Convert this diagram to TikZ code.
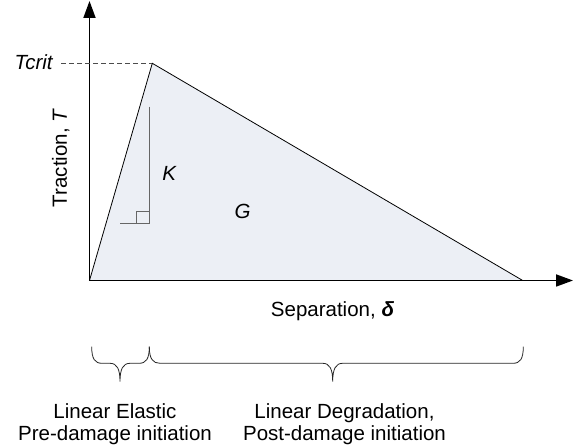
\documentclass[tikz,border=0pt]{standalone}
\usepackage{fontspec}
\setmainfont{Liberation Sans}
\usetikzlibrary{arrows.meta}

\definecolor{areafill}{HTML}{ECEFF5}

\begin{document}
\begin{tikzpicture}[
  x=1pt, y=1pt,
  axis/.style={line width=1.8pt, -{Triangle[length=17pt,width=12pt]}},
  region/.style={draw=black, line width=0.8pt, fill=areafill, line join=miter},
  guide/.style={draw=black!60, line width=1pt},
  brace/.style={draw=black!85, line width=0.8pt},
  txt/.style={font=\fontsize{20.5}{21.7}\selectfont, inner sep=0pt, align=center}
]
\useasboundingbox (0,0) rectangle (573,446);

% traction-separation law
\coordinate (origin) at (89.5,165.5);
\coordinate (peak) at (152.3,382.7);
\coordinate (failure) at (522.7,165.5);
\coordinate (ytop) at (89.5,445);
\coordinate (xend) at (573,165.5);
\coordinate (tlevel) at (61,382.7);

\path[region] (origin) -- (peak) -- (failure) -- cycle;
\draw[axis] (origin) -- (ytop);
\draw[axis] (origin) -- (xend);
\draw[black!70, line width=0.9pt, dash pattern=on 5pt off 3pt] (tlevel) -- (peak);

% stiffness marker
\coordinate (ktop) at (149,339.3);
\coordinate (kcorner) at (149,222.7);
\coordinate (kleft) at (120,222.7);
\draw[guide] (ktop) -- (kcorner) -- (kleft);
\draw[guide] (136.7,222.7) -- (136.7,234.3) -- (kcorner |- 0,234.3);

\node[txt, anchor=east] (tcrit) at (53.5,384) {\textit{Tcrit}};
\node[txt] (stiff) at (169.7,272.5) {\textit{K}};
\node[txt] (energy) at (242.7,235) {\textit{G}};
\node[txt, rotate=90] (traction) at (60.7,288.2) {Traction, \textit{T}};
\node[txt] (separation) at (332.5,134.3) {Separation, \textbf{\textit{δ}}};

% braces under the axis
\coordinate (b1a) at (91.7,99.3);
\coordinate (b1tip) at (120,64.3);
\coordinate (b1b) at (149.3,99.3);
\coordinate (b2tip) at (332.7,64.3);
\coordinate (b2b) at (523.3,99.3);
\draw[brace] (b1a) .. controls (91.7,87) and (95,82.7) .. (102,82.7) -- (110,82.7)
  .. controls (117,82.7) and (120,77) .. (b1tip)
  .. controls (120,77) and (123,82.7) .. (130,82.7) -- (139,82.7)
  .. controls (146,82.7) and (149.3,87) .. (b1b);
\draw[brace] (b1b) .. controls (149.3,87) and (153,82.7) .. (160,82.7) -- (322.7,82.7)
  .. controls (329.7,82.7) and (332.7,77) .. (b2tip)
  .. controls (332.7,77) and (335.7,82.7) .. (342.7,82.7) -- (513,82.7)
  .. controls (520,82.7) and (523.3,87) .. (b2b);

\node[txt] (elastic) at (115,22) {Linear Elastic\\Pre-damage initiation};
\node[txt] (degrade) at (344.5,22) {Linear Degradation,\\Post-damage initiation};

\end{tikzpicture}
\end{document}
